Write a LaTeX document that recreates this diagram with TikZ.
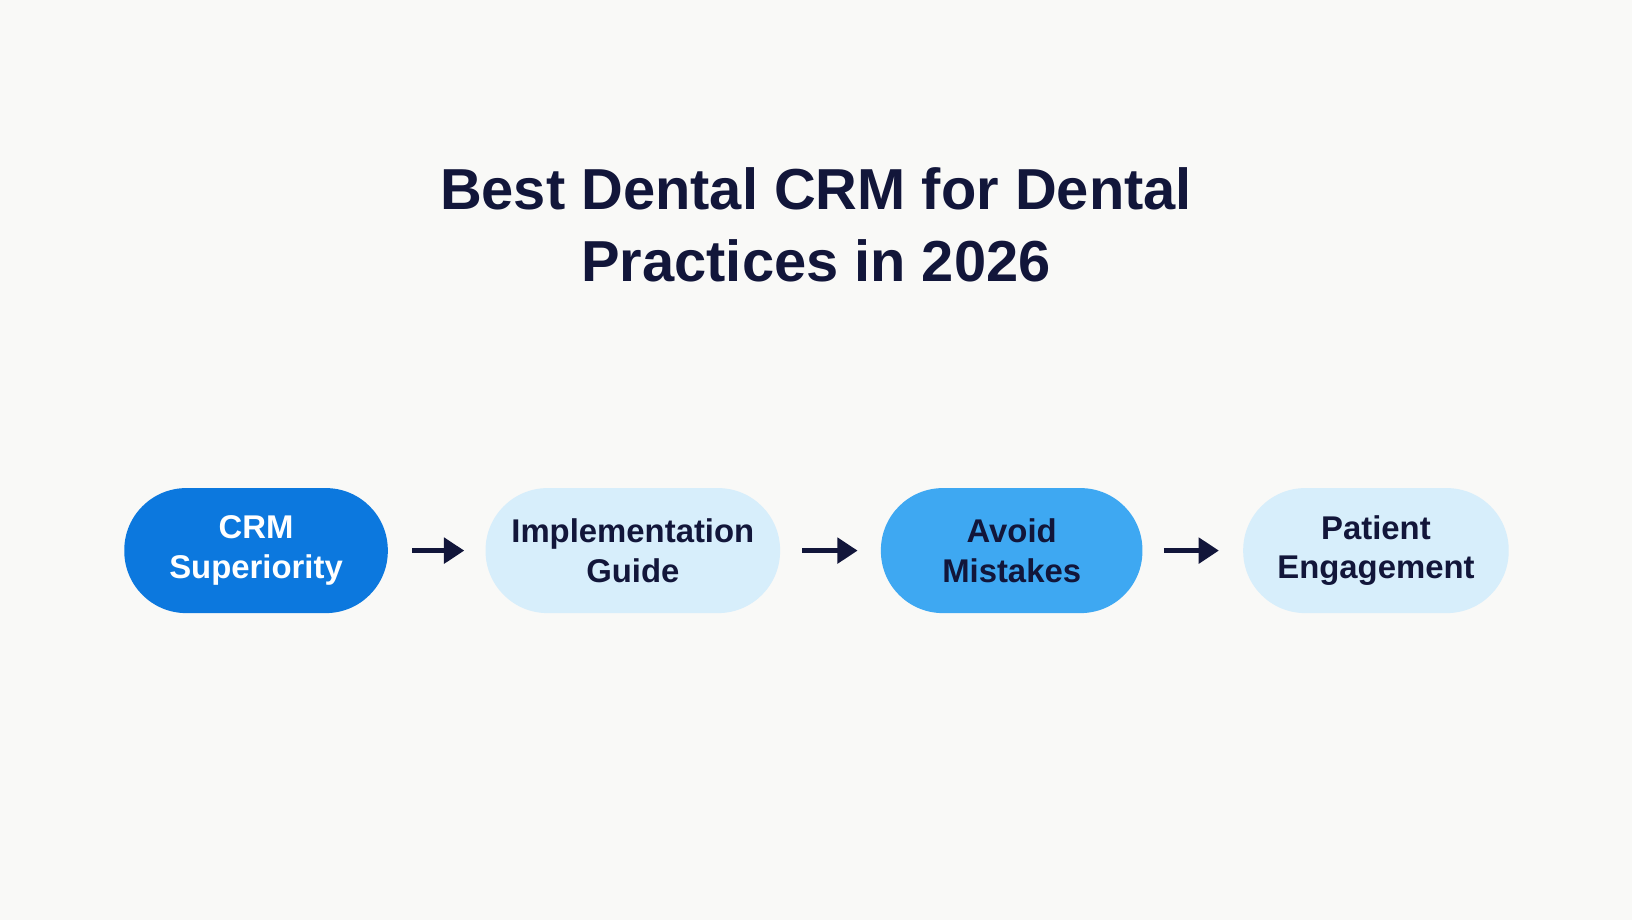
\documentclass[tikz,border=0pt]{standalone}
\usepackage{fontspec}
\setmainfont{Liberation Sans}
\usetikzlibrary{arrows.meta}
\definecolor{ink}{RGB}{18,22,58}
\definecolor{paper}{RGB}{249,249,247}
\definecolor{deepblue}{RGB}{12,120,222}
\definecolor{midblue}{RGB}{62,168,242}
\definecolor{paleblue}{RGB}{215,238,251}
\begin{document}
\begin{tikzpicture}[x=0.020816cm,y=-0.020816cm,
    pill/.style={rounded corners=1.24cm,minimum width=5.27cm,minimum height=2.5cm,
      align=center,font=\fontsize{18.7}{22.5}\selectfont\bfseries,text=ink},
    >={Triangle[length=11.5pt,width=14.5pt]}]
                \fill[paper] (0,0) rectangle (1568,884);
                \node[text=ink,align=center,font=\fontsize{32.9}{41.5}\selectfont\bfseries] (title) at (784,216)
                  {Best Dental CRM for Dental\\Practices in 2026};
                \node[pill,fill=deepblue,text=white] (crm) at (246,529) {CRM\\Superiority};
                \node[pill,fill=paleblue,minimum width=5.89cm] (guide) at (608,529) {Implementation\\Guide};
                \node[pill,fill=midblue,minimum width=5.23cm] (avoid) at (972,529) {Avoid\\Mistakes};
                \node[pill,fill=paleblue,minimum width=5.31cm] (engage) at (1322,529) {Patient\\Engagement};
                \draw[->,ink,line width=2.4pt,shorten <=0.48cm,shorten >=0.42cm] (crm) -- (guide);
                \draw[->,ink,line width=2.4pt,shorten <=0.44cm,shorten >=0.46cm] (guide) -- (avoid);
                \draw[->,ink,line width=2.4pt,shorten <=0.42cm,shorten >=0.48cm] (avoid) -- (engage);
            \end{tikzpicture}
\end{document}
